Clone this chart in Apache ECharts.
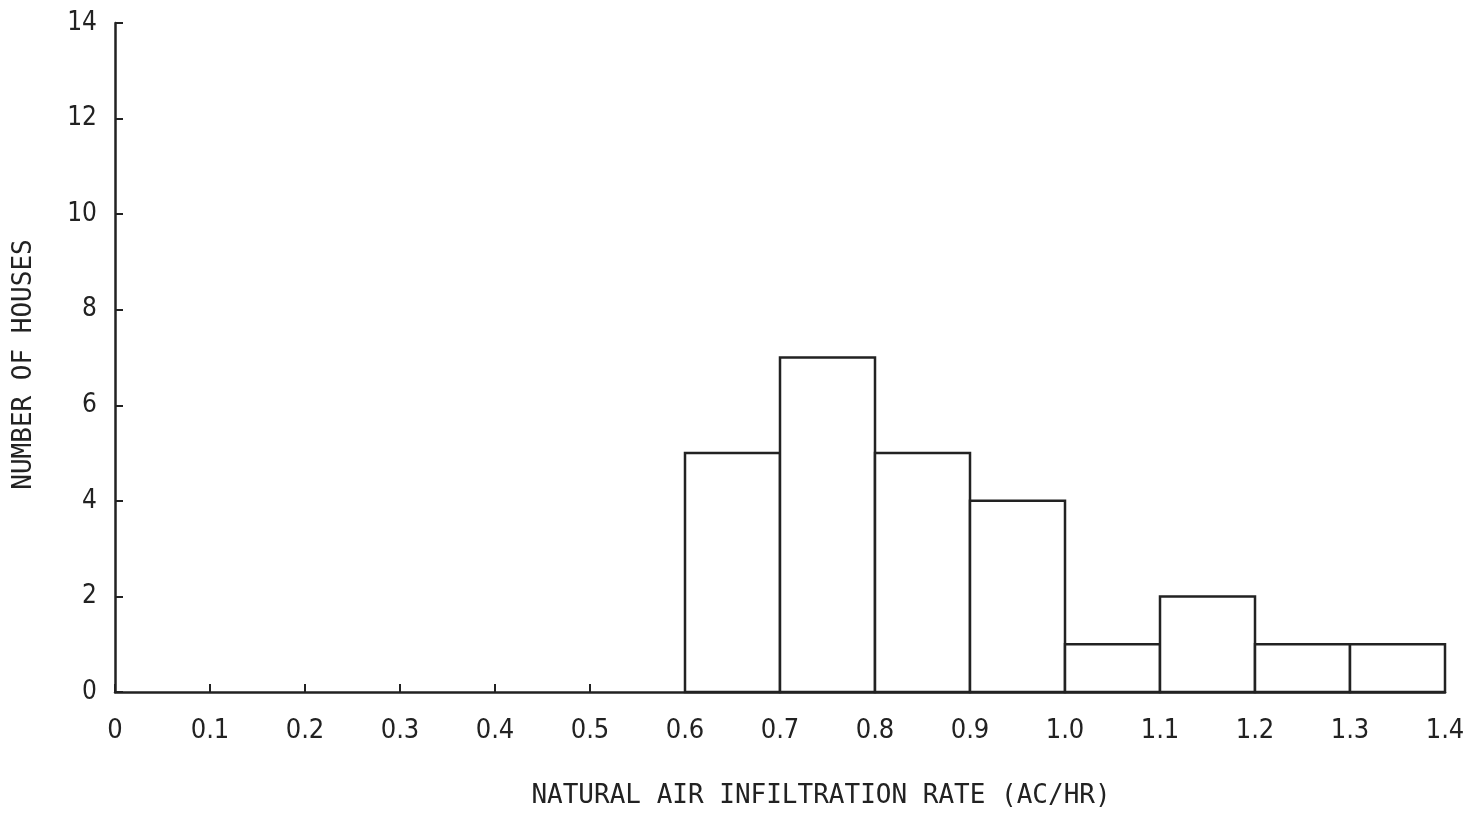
<!DOCTYPE html>
<html><head><meta charset="utf-8">
<script src="https://cdn.jsdelivr.net/npm/echarts@6/dist/echarts.min.js"></script>
<style>html,body{margin:0;padding:0;background:#fff}#c{width:1480px;height:816px}</style>
</head><body><div id="c"></div>
<script>
const binStarts = [0.6, 0.7, 0.8, 0.9, 1.0, 1.1, 1.2, 1.3];
const binEnds   = [0.7, 0.8, 0.9, 1.0, 1.1, 1.2, 1.3, 1.4];
const counts    = [5, 7, 5, 4, 1, 2, 1, 1];
const xTitle = 'NATURAL AIR INFILTRATION RATE (AC/HR)';
const yTitle = 'NUMBER OF HOUSES';

const data = binStarts.map((s, i) => [s, binEnds[i], counts[i]]);
const font = '"DejaVu Sans Condensed", "DejaVu Sans", sans-serif';
const mono = '"DejaVu Sans Mono", "Liberation Mono", monospace';
const chart = echarts.init(document.getElementById('c'));
chart.setOption({
  animation: false,
  grid: {left: 115, right: 35, top: 23, bottom: 124},
  xAxis: {
    type: 'value', min: 0, max: 1.4, interval: 0.1,
    name: xTitle, nameLocation: 'middle', nameGap: 91,
    nameTextStyle: {fontFamily: mono, fontSize: 26, color: '#222', padding: [0, 0, 0, 82]},
    axisLine: {show: true, lineStyle: {color: '#222', width: 2.5}},
    axisTick: {show: true, inside: true, length: 8, lineStyle: {color: '#222', width: 2}},
    axisLabel: {fontFamily: font, fontSize: 27, color: '#222', margin: 25,
      formatter: v => v === 0 ? '0' : v.toFixed(1)},
    splitLine: {show: false}
  },
  yAxis: {
    type: 'value', min: 0, max: 14, interval: 2,
    name: yTitle, nameLocation: 'middle', nameGap: 78, nameRotate: 90,
    nameTextStyle: {fontFamily: mono, fontSize: 26, color: '#222', padding: [0, 14, 0, 0]},
    axisLine: {show: true, lineStyle: {color: '#222', width: 2.5}},
    axisTick: {show: true, inside: true, length: 8, lineStyle: {color: '#222', width: 2}},
    axisLabel: {fontFamily: font, fontSize: 26, color: '#222', margin: 18},
    splitLine: {show: false}
  },
  series: [{
    type: 'custom',
    data: data,
    encode: {x: [0, 1], y: 2},
    renderItem: function (params, api) {
      const p0 = api.coord([api.value(0), api.value(2)]);
      const p1 = api.coord([api.value(1), 0]);
      return {
        type: 'rect',
        shape: {x: p0[0], y: p0[1], width: p1[0] - p0[0], height: p1[1] - p0[1]},
        style: {fill: '#fff', stroke: '#222', lineWidth: 2.5}
      };
    }
  }]
});
</script></body></html>
